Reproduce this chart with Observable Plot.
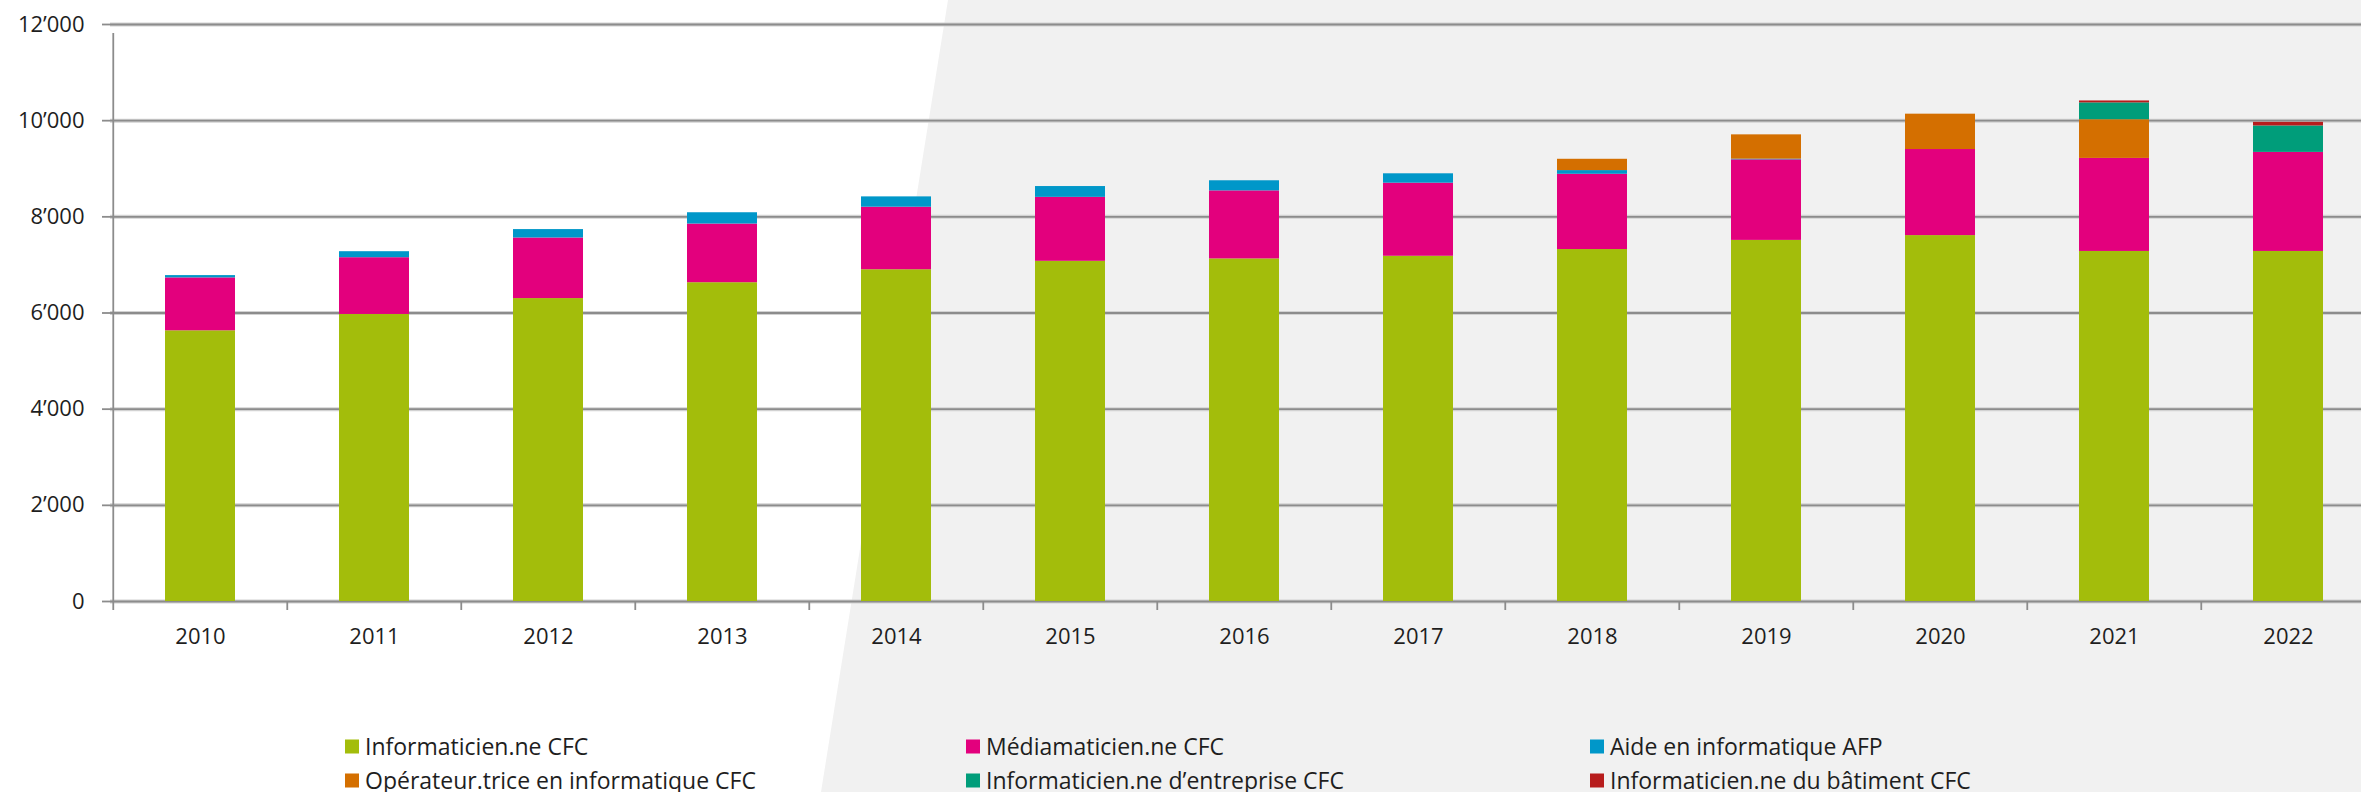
<!DOCTYPE html>
<html>
<head>
<meta charset="utf-8">
<script src="https://cdn.jsdelivr.net/npm/d3@7"></script>
<script src="https://cdn.jsdelivr.net/npm/@observablehq/plot@0.6"></script>
<style>
  html, body { margin: 0; padding: 0; width: 2361px; height: 792px; overflow: hidden; background: #ffffff; font-family: "Open Sans", sans-serif; }
  #bg { position: absolute; left: 0; top: 0; width: 2361px; height: 792px; background: #f1f1f1;
        clip-path: polygon(948px 0px, 2361px 0px, 2361px 792px, 821px 792px); }
  #chart { position: absolute; left: 0; top: 0; }
  #legend { position: absolute; left: 0; top: 0; width: 2361px; height: 792px; }
  .item { position: absolute; display: flex; align-items: center; font-size: 23px; line-height: 1; color: #1e1e1e; white-space: nowrap; transform: translateY(-50%); }
  .sw { width: 14px; height: 14px; margin-right: 6px; flex: none; }
</style>
</head>
<body>
<div id="bg"></div>
<div id="chart"></div>
<div id="legend"></div>
<script>
// ---- data ----
const years = ["2010","2011","2012","2013","2014","2015","2016","2017","2018","2019","2020","2021","2022"];
const series = [
  "Informaticien.ne CFC",
  "Médiamaticien.ne CFC",
  "Aide en informatique AFP",
  "Opérateur.trice en informatique CFC",
  "Informaticien.ne d’entreprise CFC",
  "Informaticien.ne du bâtiment CFC"
];
const colors = ["#a3bd0b", "#e3007d", "#0097c9", "#d46f00", "#009d7a", "#b71c1c"];
const informaticien = [5630, 5970, 6300, 6630, 6900, 7075, 7125, 7180, 7320, 7510, 7610, 7280, 7280];
const mediamaticien = [1100, 1180, 1260, 1220, 1300, 1330, 1415, 1520, 1565, 1675, 1790, 1935, 2060];
const aide          = [  48,  125,  175,  235,  215,  225,  210,  195,   77,   15,    0,    0,    0];
const operateur     = [   0,    0,    0,    0,    0,    0,    0,    0,  235,  505,  735,  805,    0];
const entreprise    = [   0,    0,    0,    0,    0,    0,    0,    0,    0,    0,    0,  350,  550];
const batiment      = [   0,    0,    0,    0,    0,    0,    0,    0,    0,    0,    0,   40,   75];
const yTicks = [0, 2000, 4000, 6000, 8000, 10000, 12000];

const valuesBySeries = [informaticien, mediamaticien, aide, operateur, entreprise, batiment];
const table = [];
series.forEach((s, si) => years.forEach((y, yi) => table.push({year: y, series: s, value: valuesBySeries[si][yi]})));

const fmt = d => d3.format(",")(d).replace(/,/g, "’");

// ---- layout ----
const W = 2378, ML = 110;
const step = (W - ML) / years.length;
const gridCol = "#8c8c8c";

const chart = Plot.plot({
  width: W,
  height: 680,
  marginLeft: ML,
  marginRight: 0,
  marginTop: 24,
  marginBottom: 79,
  style: {background: "transparent", maxWidth: "none", overflow: "visible", fontFamily: "'Open Sans', sans-serif", fontSize: "22px", color: "#1e1e1e"},
  x: {domain: years, paddingInner: 0.6, paddingOuter: 0.3, label: null},
  y: {domain: [0, 12000], label: null},
  color: {domain: series, range: colors},
  marks: [
    Plot.ruleY(yTicks, {stroke: "#d2d2d2", strokeWidth: 4}),
    Plot.ruleY(yTicks, {stroke: gridCol, strokeWidth: 1.8}),
    Plot.barY(table, {x: "year", y: "value", fill: "series"}),
    Plot.axisY({ticks: yTicks, tickSize: 8, tickPadding: 18, tickFormat: fmt, stroke: gridCol, strokeWidth: 1.8, label: null}),
    Plot.axisX({tickSize: 0, tickPadding: 27, label: null}),
    Plot.ruleX(years, {x: d => d, dx: -step / 2, y1: 0, y2: 0, insetBottom: -9, stroke: gridCol, strokeWidth: 1.8}),
    Plot.ruleX(years.slice(0, 1), {x: d => d, dx: -step / 2, y1: 0, y2: 12000, insetBottom: -9, stroke: gridCol, strokeWidth: 1.8})
  ]
});
document.getElementById("chart").appendChild(chart);

// ---- legend ----
const legendCols = [345, 966, 1590];
const legendRows = [746, 780];
const legend = document.getElementById("legend");
series.forEach((s, i) => {
  const item = document.createElement("div");
  item.className = "item";
  item.style.left = legendCols[i % 3] + "px";
  item.style.top = legendRows[Math.floor(i / 3)] + "px";
  const sw = document.createElement("span");
  sw.className = "sw";
  sw.style.background = colors[i];
  const tx = document.createElement("span");
  tx.textContent = s;
  item.appendChild(sw);
  item.appendChild(tx);
  legend.appendChild(item);
});
</script>
</body>
</html>
